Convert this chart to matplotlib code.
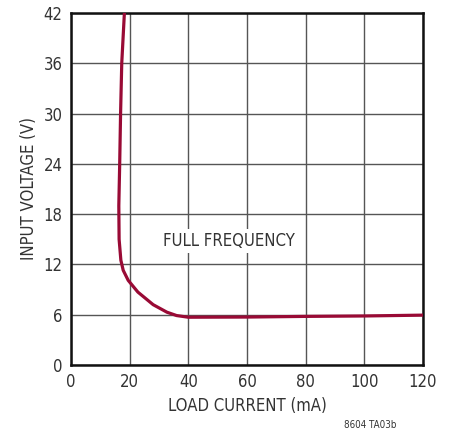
import matplotlib.pyplot as plt

# ── Data ──────────────────────────────────────────────────────────────────────
load_current = [18.2, 17.3, 16.9, 16.6, 16.3, 16.4, 17.0, 17.8, 19.5, 22.8,
                28.0, 32.7, 36.0, 40.0, 60.0, 80.0, 100.0, 120.0]
input_voltage = [42.0, 36.0, 30.0, 24.0, 19.0, 15.0, 12.5, 11.3, 10.1, 8.7,
                 7.2, 6.3, 5.9, 5.7, 5.72, 5.8, 5.85, 5.95]

x_ticks = [0, 20, 40, 60, 80, 100, 120]
y_ticks = [0, 6, 12, 18, 24, 30, 36, 42]

plt.rcParams["font.family"] = ["DejaVu Sans"]
plt.rcParams["font.stretch"] = "condensed"
text_color = "#333333"

fig = plt.figure(figsize=(4.5, 4.36), dpi=100)
ax = fig.add_axes([71 / 450, 1 - 365 / 436, 352 / 450, 352 / 436])

ax.plot(load_current, input_voltage, color="#990a35", lw=2.3,
        solid_joinstyle="round", zorder=3)

ax.set_xlim(0, 120)
ax.set_ylim(0, 42)
ax.set_xticks(x_ticks)
ax.set_yticks(y_ticks)
ax.grid(True, color="#555555", lw=1.0)
ax.tick_params(length=0, labelsize=12, labelcolor=text_color, pad=6)
for s in ax.spines.values():
    s.set_linewidth(1.8)
    s.set_color("#111111")

ax.set_xlabel("LOAD CURRENT (mA)", fontsize=12, color=text_color, labelpad=4)
ax.set_ylabel("INPUT VOLTAGE (V)", fontsize=12, color=text_color, labelpad=4)

ax.text(54, 14.8, "FULL FREQUENCY", fontsize=12, color=text_color,
        ha="center", va="center", zorder=4,
        bbox=dict(facecolor="white", edgecolor="none", pad=2))

fig.text(370 / 450, 1 - 425 / 436, "8604 TA03b", fontsize=7, color=text_color,
         ha="center", va="center")

fig.savefig("out.png", dpi=100)
